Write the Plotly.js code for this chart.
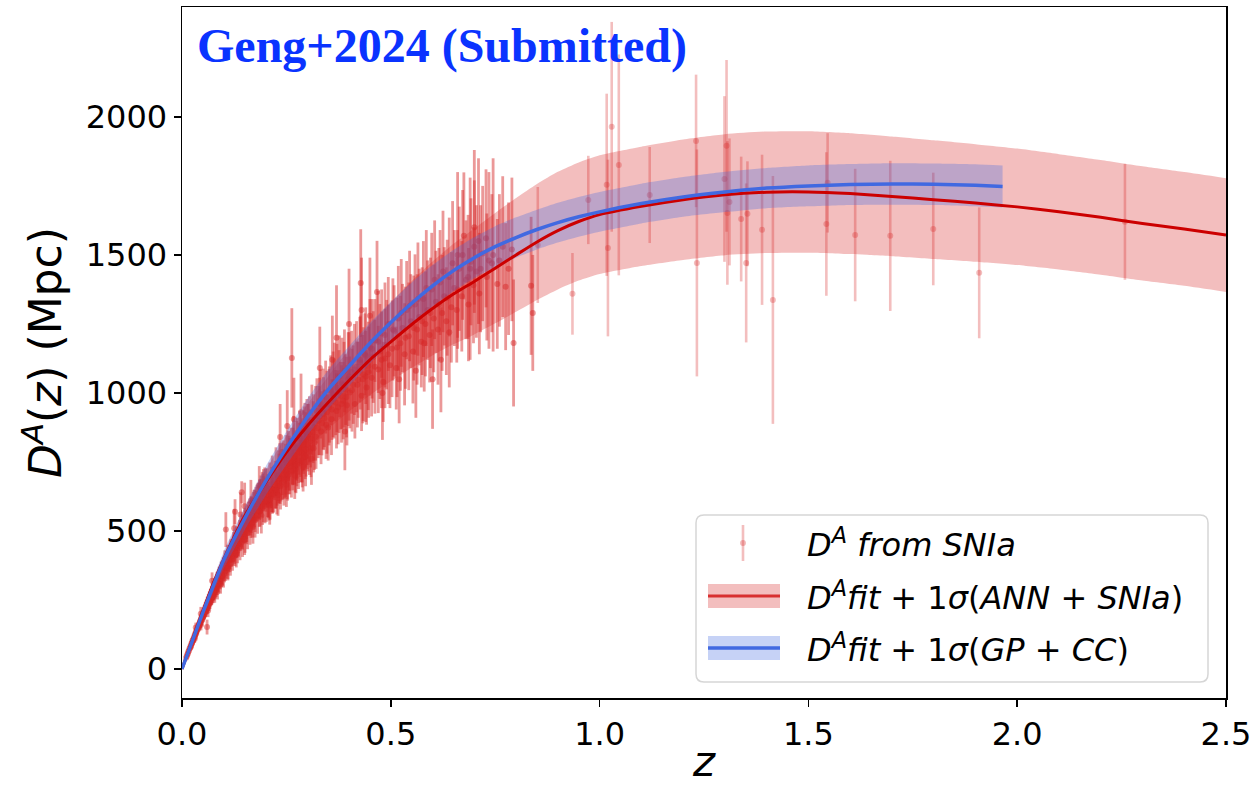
<!DOCTYPE html>
<html>
<head>
<meta charset="utf-8">
<script src="https://cdn.plot.ly/plotly-3.0.1.min.js"></script>
<style>html,body{margin:0;padding:0;background:#fff;}#chart{width:1257px;height:786px;}</style>
</head>
<body>
<div id="chart"></div>
<script>
// ---- ANN + SNIa reconstruction (red) ----
const annZ = [0,0.025,0.05,0.075,0.1,0.15,0.2,0.25,0.3,0.35,0.4,0.45,0.5,0.55,0.6,0.65,0.7,0.75,0.8,0.85,0.9,0.95,1.0,1.1,1.2,1.3,1.4,1.5,1.6,1.7,1.8,1.9,2.0,2.1,2.2,2.3,2.4,2.5];
const annMean = [0,105,210,310,398,553,675,785,880,965,1045,1120,1185,1248,1306,1358,1404,1452,1500,1547,1588,1621,1646,1676,1700,1718,1727,1728,1722,1712,1700,1688,1674,1656,1636,1614,1594,1572];
const annHigh = [0,109,218,323,416,583,720,845,958,1060,1157,1248,1328,1405,1476,1540,1596,1652,1706,1757,1801,1835,1861,1892,1918,1937,1947,1948,1941,1929,1915,1901,1885,1865,1844,1821,1800,1778];
const annLow  = [0,101,202,297,380,523,630,725,802,870,933,992,1042,1091,1136,1176,1212,1252,1294,1337,1375,1407,1431,1460,1482,1499,1507,1508,1503,1495,1485,1475,1463,1447,1428,1407,1388,1366];

// ---- GP + CC reconstruction (blue) ----
const gpZ = [0,0.025,0.05,0.075,0.1,0.15,0.2,0.25,0.3,0.35,0.4,0.45,0.5,0.55,0.6,0.65,0.7,0.75,0.8,0.85,0.9,0.95,1.0,1.1,1.2,1.3,1.4,1.5,1.6,1.7,1.8,1.9,1.965];
const gpMean = [0,103,205,302,395,545,680,800,912,1012,1097,1180,1255,1325,1388,1443,1490,1530,1563,1592,1617,1638,1656,1686,1710,1728,1742,1750,1755,1757,1756,1752,1748];
const gpHigh = [0,111,221,326,426,587,732,860,978,1082,1169,1253,1329,1400,1463,1518,1564,1604,1636,1664,1689,1710,1728,1758,1782,1801,1815,1824,1829,1832,1831,1828,1824];
const gpLow  = [0,95,189,278,364,503,628,740,846,942,1025,1107,1181,1250,1313,1368,1416,1456,1490,1520,1545,1566,1584,1614,1638,1655,1669,1676,1681,1682,1681,1676,1672];

// ---- D^A from SNIa (redshift, D_A in Mpc, 1-sigma error) ----
const snZ = [
 0.0100,0.0115,0.0128,0.0140,0.0152,0.0165,0.0178,0.0190,0.0203,0.0215,0.0228,0.0240,0.0252,0.0265,0.0278,0.0290,
 0.0303,0.0315,0.0328,0.0340,0.0352,0.0365,0.0378,0.0390,0.0403,0.0415,0.0428,0.0440,0.0452,0.0465,0.0478,0.0490,
 0.0503,0.0515,0.0528,0.0540,0.0552,0.0565,0.0578,0.0590,0.0603,0.0615,0.0628,0.0640,0.0652,0.0665,0.0678,0.0690,
 0.0703,0.0715,0.0728,0.0740,0.0752,0.0765,0.0778,0.0790,0.0815,0.0840,0.0865,0.0890,0.0915,0.0940,0.0965,0.0990,
 0.0450,0.0600,0.0330,0.0720,0.0850,
 0.101,0.104,0.107,0.110,0.113,0.116,0.118,0.121,0.124,0.127,0.130,0.133,0.136,0.139,0.142,0.145,0.148,0.151,0.154,0.157,
 0.160,0.163,0.166,0.169,0.172,0.175,0.178,0.181,0.184,0.187,0.190,0.193,0.196,0.199,
 0.105,0.125,0.127,0.140,0.143,0.150,0.165,0.185,
 0.1025,0.1095,0.1165,0.1235,0.1305,0.1375,0.1445,0.1515,0.1585,0.1655,0.1725,0.1795,0.1865,0.1935,0.2005,
 0.2085,0.2165,0.2245,0.2325,0.2405,0.2485,0.2565,0.2645,0.2725,0.2805,0.2885,0.2965,
 0.201,0.204,0.207,0.210,0.213,0.216,0.219,0.222,0.225,0.228,0.231,0.234,0.237,0.240,0.243,0.246,0.249,0.252,0.255,0.258,
 0.261,0.264,0.267,0.270,0.273,0.276,0.279,0.282,0.285,0.288,0.291,0.294,0.297,0.300,
 0.263,0.235,0.252,0.285,
 0.302,0.305,0.308,0.311,0.314,0.317,0.320,0.323,0.326,0.329,0.332,0.335,0.338,0.341,0.344,0.347,0.350,0.353,0.356,0.359,
 0.362,0.365,0.368,0.371,0.374,0.377,0.380,0.383,0.386,0.389,0.392,0.395,0.398,
 0.330,0.360,0.390,
 0.402,0.406,0.410,0.414,0.418,0.422,0.426,0.428,0.430,0.434,0.438,0.442,0.446,0.450,0.454,0.458,0.462,0.467,0.470,0.474,
 0.478,0.482,0.486,0.490,0.494,0.498,
 0.503,0.508,0.513,0.518,0.523,0.528,0.533,0.538,0.543,0.548,0.553,0.558,0.563,0.568,0.573,0.578,0.583,0.588,0.593,0.598,
 0.603,0.608,0.613,0.618,0.623,0.628,0.633,0.640,0.645,
 0.652,0.658,0.664,0.670,0.675,0.680,0.686,0.692,0.698,0.705,0.712,0.720,0.730,0.742,0.755,0.768,0.782,0.794,
 0.836,0.840,0.852,0.935,0.973,1.017,1.020,1.029,1.046,1.120,1.231,1.233,1.299,1.304,1.306,1.311,1.339,1.351,1.354,
 1.389,1.415,1.543,1.546,1.612,1.696,1.799,1.909,2.258,
 0.021,0.024,0.027,0.031,0.034,0.037,0.041,0.044,0.047,0.051,0.054,0.057,0.061,0.064,0.067,0.071,0.074,0.077,0.081,0.084,
 0.087,0.091,0.094,0.097,0.0305,0.0455,0.0625,0.0785,0.0925,0.0995,
 0.102,0.106,0.109,0.112,0.115,0.119,0.122,0.126,0.129,0.132,0.135,0.138,0.141,0.144,0.147,0.152,0.155,0.158,0.161,0.164,
 0.167,0.171,0.174,0.177,0.182,0.186,0.189,0.192,0.195,0.198,
 0.202,0.206,0.211,0.215,0.218,0.223,0.227,0.232,0.236,0.239,0.244,0.248,0.253,0.257,0.262,0.266,0.271,0.275,0.279,0.284,
 0.288,0.293,0.296,0.299,0.268,
 0.303,0.309,0.315,0.321,0.327,0.333,0.339,0.345,0.352,0.358,0.364,0.370,0.376,0.382,0.388,0.394,0.400,0.407,0.413,0.420,
 0.427,0.433,0.440,0.447,0.455,0.462,0.470,0.478,0.486,0.494,
 0.505,0.515,0.525,0.535,0.545,0.555,0.565,0.575,0.585,0.595,0.605,0.615,0.625,0.635,0.648,0.660,0.672,0.685,0.700,0.715,
 0.728,0.745,0.760,0.775,0.790,
 0.660,0.690,0.710,0.735,0.700,0.400,0.430,0.450,0.370,0.520,0.560,0.620,0.600,0.580,0.640,0.480,0.440,
 0.055,0.065,0.075,0.085,0.095,0.105,0.115,0.125,0.135,0.145,0.155,0.165,0.175,0.185,0.195,0.205,0.215,0.225,0.235,0.245,
 0.255,0.265,0.275,0.285,0.295,0.305,0.315,
 0.110,0.130,0.150,0.170,0.190,0.210,0.230,0.250,0.270,0.290,0.310
];
const snD = [
 41,46,53,56,63,65,73,75,83,84,93,94,103,104,112,114,
 123,124,133,132,143,142,153,151,162,160,172,169,181,178,191,187,
 200,196,209,205,218,213,227,222,237,230,245,238,254,246,262,255,
 271,262,280,270,288,279,297,286,300,318,312,335,328,352,340,365,
 200,152,150,320,280,
 378,355,392,366,404,382,421,398,437,412,455,428,470,446,489,461,503,478,522,494,
 541,508,555,529,572,540,588,556,603,571,619,584,640,598,
 505,510,570,560,640,590,610,665,
 395,412,430,452,470,492,510,530,552,570,590,608,626,644,660,
 600,628,650,672,690,712,730,752,775,798,812,830,
 630,655,612,668,640,698,652,676,715,662,700,742,688,725,760,705,748,690,772,735,
 790,748,812,760,725,800,770,835,785,752,822,860,795,842,
 1127,840,880,930,
 812,868,835,902,858,820,890,935,872,915,960,890,942,908,985,930,875,958,1010,940,
 995,1040,965,1018,948,1060,990,1035,972,1080,1012,955,1050,
 1090,1120,860,
 1002,1075,1030,960,1095,1048,1120,1398,990,1068,1140,1020,1098,1165,1055,1130,1190,1366,1085,1150,
 1215,1040,1125,1175,1250,1100,
 1160,1225,1090,1270,1180,1235,1140,1300,1205,1260,1150,1320,1230,1275,1185,1340,1250,1300,1210,1375,
 1270,1330,1230,1400,1290,1350,1260,1420,1310,
 1380,1300,1450,1350,1569,1410,1320,1475,1390,1440,1360,1505,1420,1470,1395,1530,1450,1181,
 1388,1290,1536,1359,1699,1754,1525,1964,1826,1717,1913,1471,1775,1895,1652,1692,1630,1471,1649,
 1591,1337,1612,1761,1572,1569,1594,1435,1620,
 80,92,103,117,128,140,153,164,175,188,198,208,220,232,240,255,263,275,288,296,
 306,318,328,337,110,160,212,268,305,330,
 352,368,375,392,395,410,420,428,445,452,458,478,482,490,505,515,520,538,545,548,
 566,575,582,598,605,612,635,640,648,660,
 605,628,615,650,635,668,640,690,662,705,680,720,700,745,715,770,738,790,752,808,
 780,835,770,858,905,
 850,800,875,840,900,860,925,885,948,905,980,935,1005,960,1030,985,1060,1010,1085,1030,
 1110,1050,1135,1075,1160,1095,1185,1120,1210,1140,
 1230,1165,1290,1200,1315,1235,1340,1260,1380,1290,1410,1320,1440,1345,1470,1375,1500,1420,1530,1450,
 1560,1500,1480,1385,1520,
 1500,1450,1550,1480,1600,1250,1300,1280,1200,1050,1080,1120,1050,1180,1220,1000,1060,
 208,243,280,310,340,372,400,425,452,478,500,525,548,570,590,610,630,648,666,685,
 705,722,740,756,770,788,800,
 366,418,468,514,556,593,630,667,701,733,762
];
const snErr = [
 5,5,6,6,7,7,8,8,9,9,10,10,11,11,12,12,
 13,13,14,14,15,15,16,16,17,17,18,18,19,19,20,20,
 21,21,22,22,23,23,24,24,25,25,26,26,27,27,28,28,
 29,29,30,30,31,31,32,32,33,34,35,36,37,38,39,40,
 25,27,18,30,28,
 30,36,33,40,38,44,35,42,47,39,50,45,41,52,48,55,44,57,51,60,
 46,58,62,53,49,64,57,66,60,55,68,62,58,70,
 63,70,45,80,40,85,75,70,
 35,38,40,44,46,48,50,52,54,56,58,60,62,64,66,
 62,66,70,72,76,80,82,86,90,94,96,100,
 60,72,66,80,58,75,84,64,88,70,92,76,81,95,68,86,99,74,90,102,
 84,78,105,92,88,110,96,100,108,94,115,104,98,118,
 180,120,130,140,
 96,120,105,128,112,99,135,118,108,140,125,116,146,104,132,150,120,138,126,110,
 155,142,118,160,134,148,122,165,140,150,128,145,170,
 150,160,140,
 130,150,142,125,165,138,155,195,128,170,148,135,160,175,140,166,150,185,158,172,
 160,145,180,162,170,155,
 175,165,150,190,172,160,185,178,195,170,188,182,200,175,165,210,190,180,172,205,
 195,185,200,190,210,178,195,215,200,
 210,190,225,200,230,215,205,230,210,240,220,245,230,250,235,255,240,230,
 250,210,210,148,160,330,320,380,400,174,240,411,300,311,260,230,226,288,190,
 272,449,260,180,240,272,204,237,210,
 9,10,11,12,13,14,15,16,17,18,19,20,21,22,23,24,25,26,27,28,
 29,30,31,32,15,20,24,28,32,35,
 38,40,36,42,44,40,46,48,44,50,52,48,54,56,50,58,60,55,62,64,
 58,66,68,62,70,72,66,74,76,70,
 72,78,74,82,70,86,80,90,84,92,88,96,90,100,94,104,98,108,100,112,
 104,116,108,120,150,
 110,105,120,115,125,118,132,124,138,130,145,136,150,140,155,146,160,150,165,155,
 170,160,175,165,180,170,185,175,190,180,
 185,180,195,185,200,190,205,195,210,200,215,205,220,210,225,215,235,225,240,230,
 250,350,240,230,260,
 300,330,300,320,280,200,190,210,190,160,170,190,180,175,200,170,165,
 22,25,28,30,33,36,38,40,42,45,48,50,52,55,58,60,62,65,68,70,
 72,75,78,80,82,85,88,
 45,50,55,60,65,70,75,80,85,90,95
];

const xTickVals = [0,0.5,1.0,1.5,2.0,2.5];
const xTickText = ['0.0','0.5','1.0','1.5','2.0','2.5'];
const yTickVals = [0,500,1000,1500,2000];
const yTickText = ['0','500','1000','1500','2000'];

const annColor = '#cc0000';
const gpColor = '#4169e1';
const annFill = 'rgba(214,39,40,0.30)';
const gpFill = 'rgba(65,105,225,0.30)';
const snColor = 'rgba(214,39,40,0.30)';
const snDenseColor = 'rgba(214,39,40,0.48)';

// split the supernova sample into the crowded low-z part and the sparse high-z part
const denseIdx = [], sparseIdx = [];
snZ.forEach((z, i) => (z < 0.85 ? denseIdx : sparseIdx).push(i));
const pick = (arr, idx) => idx.map(i => arr[i]);

const snTrace = (idx, color, thick) => ({
  x: pick(snZ, idx), y: pick(snD, idx), type: 'scatter', mode: 'markers',
  marker: {size: 6, color: color, line: {width: 0}},
  error_y: {type: 'data', array: pick(snErr, idx), visible: true, color: color, thickness: thick, width: 0},
  showlegend: false, hoverinfo: 'skip'
});

const traces = [
  snTrace(denseIdx, snDenseColor, 2.8),
  snTrace(sparseIdx, snColor, 2.6),
  {x: annZ, y: annLow, type: 'scatter', mode: 'lines', line: {width: 0, shape: 'spline', smoothing: 0.6},
   showlegend: false, hoverinfo: 'skip'},
  {x: annZ, y: annHigh, type: 'scatter', mode: 'lines', line: {width: 0, shape: 'spline', smoothing: 0.6},
   fill: 'tonexty', fillcolor: annFill, showlegend: false, hoverinfo: 'skip'},
  {x: gpZ, y: gpLow, type: 'scatter', mode: 'lines', line: {width: 0, shape: 'spline', smoothing: 0.6},
   showlegend: false, hoverinfo: 'skip'},
  {x: gpZ, y: gpHigh, type: 'scatter', mode: 'lines', line: {width: 0, shape: 'spline', smoothing: 0.6},
   fill: 'tonexty', fillcolor: gpFill, showlegend: false, hoverinfo: 'skip'},
  {x: annZ, y: annMean, type: 'scatter', mode: 'lines', line: {color: annColor, width: 3, shape: 'spline', smoothing: 0.6},
   showlegend: false, hoverinfo: 'skip'},
  {x: gpZ, y: gpMean, type: 'scatter', mode: 'lines', line: {color: gpColor, width: 3.5, shape: 'spline', smoothing: 0.6},
   showlegend: false, hoverinfo: 'skip'}
];

// plot area: x 182..1226 px, y 7..698 px
const L = 182, R = 1226, T = 7, B = 698;
const px = v => (v - L) / (R - L);
const py = v => (B - v) / (B - T);

// rounded legend frame
const lx0 = px(696), lx1 = px(1208), ly0 = py(682), ly1 = py(515);
const rx = 8 / (R - L), ry = 8 / (B - T);
const framePath = `M${lx0+rx},${ly0} L${lx1-rx},${ly0} Q${lx1},${ly0} ${lx1},${ly0+ry} L${lx1},${ly1-ry} Q${lx1},${ly1} ${lx1-rx},${ly1} L${lx0+rx},${ly1} Q${lx0},${ly1} ${lx0},${ly1-ry} L${lx0},${ly0+ry} Q${lx0},${ly0} ${lx0+rx},${ly0} Z`;

const shapes = [
  {type: 'path', xref: 'paper', yref: 'paper', path: framePath, line: {color: '#d6d6d6', width: 1.5}, fillcolor: 'rgba(255,255,255,0.85)'},
  // row 1: errorbar symbol
  {type: 'line', xref: 'paper', yref: 'paper', x0: px(743), x1: px(743), y0: py(525), y1: py(561), line: {color: snColor, width: 2.6}},
  {type: 'circle', xref: 'paper', yref: 'paper', x0: px(740), x1: px(746), y0: py(546), y1: py(540), fillcolor: snColor, line: {width: 0}},
  // row 2: ANN band + line
  {type: 'rect', xref: 'paper', yref: 'paper', x0: px(708), x1: px(780), y0: py(608), y1: py(584), fillcolor: annFill, line: {width: 0}},
  {type: 'line', xref: 'paper', yref: 'paper', x0: px(708), x1: px(780), y0: py(596), y1: py(596), line: {color: '#d83030', width: 3}},
  // row 3: GP band + line
  {type: 'rect', xref: 'paper', yref: 'paper', x0: px(708), x1: px(780), y0: py(660), y1: py(636), fillcolor: gpFill, line: {width: 0}},
  {type: 'line', xref: 'paper', yref: 'paper', x0: px(708), x1: px(780), y0: py(648), y1: py(648), line: {color: gpColor, width: 3.5}}
];

const legFont = {family: 'DejaVu Sans', size: 32, color: '#000'};
const annotations = [
  {xref: 'paper', yref: 'paper', x: px(195), y: py(46), xanchor: 'left', yanchor: 'middle', showarrow: false,
   text: '<b>Geng+2024 (Submitted)</b>', font: {family: 'Liberation Serif', size: 48, color: '#0a33ff'}},
  {xref: 'paper', yref: 'paper', x: px(805), y: py(543), xanchor: 'left', yanchor: 'middle', showarrow: false,
   text: '<i>D</i><sup><i>A</i></sup> <i>from SNIa</i>', font: legFont},
  {xref: 'paper', yref: 'paper', x: px(805), y: py(596), xanchor: 'left', yanchor: 'middle', showarrow: false,
   text: '<i>D</i><sup><i>A</i></sup><i>fit</i> + 1<i>σ</i>(<i>ANN</i> + <i>SNIa</i>)', font: legFont},
  {xref: 'paper', yref: 'paper', x: px(805), y: py(648), xanchor: 'left', yanchor: 'middle', showarrow: false,
   text: '<i>D</i><sup><i>A</i></sup><i>fit</i> + 1<i>σ</i>(<i>GP</i> + <i>CC</i>)', font: legFont}
];

const axisCommon = {
  showgrid: false, zeroline: false, showline: true, linecolor: '#000', linewidth: 1.5, mirror: true,
  ticks: 'outside', ticklen: 7, tickwidth: 1.5, tickcolor: '#000',
  tickfont: {family: 'DejaVu Sans', size: 32, color: '#000'}, automargin: false
};

const layout = {
  width: 1257, height: 786,
  margin: {l: L, r: 1257 - R, t: T, b: 786 - B},
  paper_bgcolor: '#fff', plot_bgcolor: '#fff',
  showlegend: false,
  xaxis: Object.assign({}, axisCommon, {
    range: [0, 2.5], tickmode: 'array', tickvals: xTickVals, ticktext: xTickText,
    title: {text: '<i>z</i>', font: {family: 'DejaVu Sans', size: 42, color: '#000'}, standoff: 14}
  }),
  yaxis: Object.assign({}, axisCommon, {
    range: [-105, 2398], tickmode: 'array', tickvals: yTickVals, ticktext: yTickText,
    title: {text: '<i>D</i><sup><i>A</i></sup>(<i>z</i>) (Mpc)', font: {family: 'DejaVu Sans', size: 44, color: '#000'}, standoff: 10}
  }),
  shapes: shapes,
  annotations: annotations
};

Plotly.newPlot('chart', traces, layout, {displayModeBar: false, staticPlot: true});
</script>
</body>
</html>
